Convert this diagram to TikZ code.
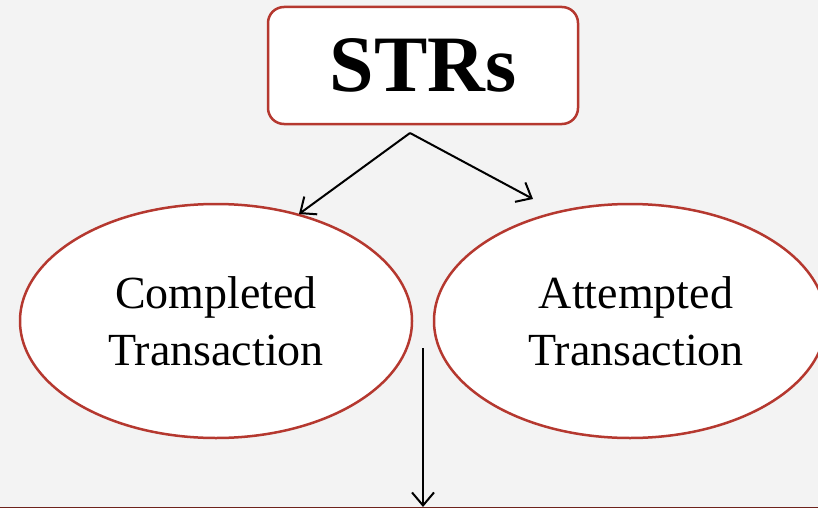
\documentclass[tikz,border=0pt]{standalone}
\usepackage{fontspec}
\setmainfont{Liberation Serif}
\usetikzlibrary{shapes.geometric,arrows.meta}
\definecolor{bgc}{HTML}{F3F3F3}
\definecolor{redb}{HTML}{B5382F}
\tikzset{
  strbox/.style={draw=redb, line width=2.5pt, fill=white, rounded corners=16pt,
    minimum width=310pt, minimum height=117pt, inner sep=0pt,
    font=\fontsize{80}{80}\selectfont\bfseries},
  oval/.style={ellipse, draw=redb, line width=2.5pt, fill=white,
    minimum width=392pt, minimum height=234pt, inner sep=0pt, align=center,
    font=\fontsize{46}{57}\selectfont},
  conn/.style={draw=black, line width=2pt, -{Straight Barb[length=13pt,width=22pt,line width=2pt]}}
}
\begin{document}
\begin{tikzpicture}[x=1pt,y=-1pt]
\fill[bgc] (0,0) rectangle (818,508);
\useasboundingbox (0,0) rectangle (818,508);
\node[strbox] (str) at (423,65.5) {STRs};
\node[oval] (comp) at (216,321) {Completed\\Transaction};
\node[oval] (att) at (630,321) {\hspace*{12pt}Attempted\\\hspace*{12pt}Transaction};
\coordinate (s) at (410,133);
\coordinate (tl) at (299,214);
\coordinate (tr) at (533,199);
\coordinate (vs) at (423,348);
\coordinate (ve) at (423,507);
\draw[conn] (s) -- (tl);
\draw[conn] (s) -- (tr);
\draw[conn] (vs) -- (ve);
\draw[draw=redb!60!black, line width=1pt] (0,507.5) -- (818,507.5);
\end{tikzpicture}
\end{document}
